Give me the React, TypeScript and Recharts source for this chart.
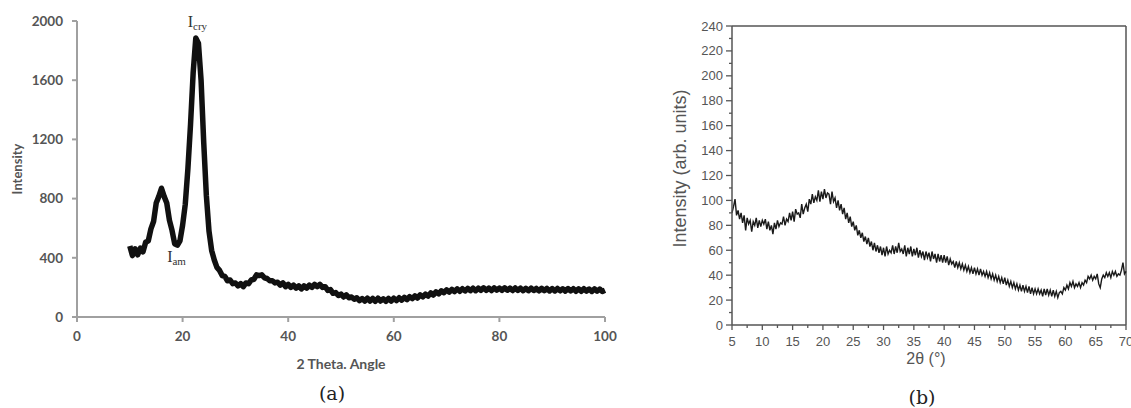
import React from 'react';
import { LineChart, Line, XAxis, YAxis, ReferenceDot, ReferenceLine, Label } from 'recharts';

// ---------- Panel (a) ----------
const angleStartA = 10;
const angleStepA = 0.5;
const intensityA = [
  480, 415, 460, 420, 465, 440, 505, 515, 595, 645,
  770, 815, 870, 815, 770, 655, 585, 495, 485, 515,
  620, 760, 1000, 1300, 1650, 1885, 1850, 1600, 1180, 820,
  580, 450, 385, 335, 315, 280, 275, 245, 250, 225,
  230, 210, 225, 205, 230, 225, 250, 255, 285, 280,
  285, 265, 260, 245, 245, 230, 235, 215, 230, 205,
  220, 200, 215, 195, 210, 190, 210, 195, 215, 200,
  220, 205, 220, 200, 205, 180, 185, 160, 165, 145,
  155, 135, 150, 130, 135, 120, 130, 110, 125, 108,
  127, 108, 125, 106, 127, 108, 123, 106, 125, 108,
  127, 111, 130, 114, 133, 118, 137, 124, 143, 128,
  150, 136, 155, 141, 163, 148, 170, 156, 177, 164,
  183, 168, 187, 172, 190, 174, 191, 176, 193, 178,
  195, 178, 195, 180, 197, 180, 195, 179, 197, 181,
  196, 180, 197, 181, 195, 179, 196, 180, 195, 178,
  194, 178, 195, 179, 193, 177, 194, 178, 193, 176,
  192, 176, 193, 177, 191, 175, 192, 176, 191, 174,
  190, 174, 191, 175, 189, 173, 190, 174, 189, 172,
  180,
];
const xTicksA = [0, 20, 40, 60, 80, 100];
const yTicksA = [0, 400, 800, 1200, 1600, 2000];

// ---------- Panel (b) ----------
const angleStartB = 5;
const angleStepB = 0.25;
const intensityB = [
  90, 95, 101, 88,
  92, 85, 90, 82,
  88, 76, 86, 81,
  84, 75, 83, 80,
  86, 78, 84, 79,
  84, 81, 85, 77,
  83, 76, 80, 73,
  82, 77, 84, 79,
  82, 81, 87, 80,
  85, 83, 90, 84,
  91, 83, 93, 89,
  90, 86, 97, 89,
  94, 97, 91, 101,
  97, 105, 98, 103,
  100, 108, 99, 107,
  101, 109, 102, 106,
  105, 97, 107, 99,
  102, 94, 100, 92,
  97, 89, 94, 85,
  90, 82, 87, 79,
  83, 76, 80, 72,
  76, 70, 74, 67,
  71, 65, 70, 63,
  67, 60, 66, 59,
  64, 58, 63, 56,
  62, 55, 63, 57,
  60, 58, 64, 57,
  63, 58, 66, 59,
  61, 57, 64, 55,
  62, 57, 63, 55,
  61, 56, 62, 54,
  60, 55, 59, 52,
  59, 54, 58, 51,
  59, 53, 57, 50,
  57, 51, 56, 50,
  56, 50, 55, 48,
  53, 49, 51, 46,
  51, 46, 50, 45,
  49, 44, 48, 43,
  47, 42, 46, 41,
  46, 41, 45, 40,
  45, 40, 43, 39,
  43, 38, 42, 37,
  41, 36, 40, 35,
  39, 34, 38, 33,
  38, 32, 36, 31,
  35, 30, 34, 29,
  33, 28, 32, 27,
  32, 27, 31, 26,
  31, 25, 30, 25,
  29, 25, 29, 25,
  28, 23, 29, 24,
  29, 24, 28, 23,
  28, 23, 27, 22,
  26, 27, 25, 30,
  28, 32, 29, 34,
  31, 35, 30, 33,
  31, 34, 30, 34,
  32, 36, 34, 39,
  37, 40, 36, 39,
  37, 41, 33, 30,
  37, 40, 38, 42,
  39, 42, 38, 43,
  40, 43, 39, 41,
  40, 44, 50, 41,
  43,
];
const xTicksB = [5, 7.5, 10, 12.5, 15, 17.5, 20, 22.5, 25, 27.5, 30, 32.5, 35, 37.5, 40, 42.5, 45, 47.5, 50, 52.5, 55, 57.5, 60, 62.5, 65, 67.5, 70];
const yTicksB = [0, 10, 20, 30, 40, 50, 60, 70, 80, 90, 100, 110, 120, 130, 140, 150, 160, 170, 180, 190, 200, 210, 220, 230, 240];

const dataA = intensityA.map((v, i) => ({ angle: angleStartA + i * angleStepA, intensity: v }));
const dataB = intensityB.map((v, i) => ({ angle: angleStartB + i * angleStepB, intensity: v }));

const grayA = '#555';
const axisA = '#a0a0a0';
const fontA = 'Lato, "Open Sans", sans-serif';
const grayB = '#555';
const fontB = '"Liberation Sans", Arial, sans-serif';

const TickYB = (props: any) => {
  const { x, y, payload } = props;
  const v = payload.value;
  const major = v % 20 === 0;
  return (
    <g>
      <line x1={x} x2={x - (major ? 6 : 3)} y1={y} y2={y} stroke={grayB} strokeWidth={1.3} />
      {major && (
        <text x={x - 9} y={y} textAnchor="end" dominantBaseline="central" fill={grayB} fontSize={13} fontFamily={fontB}>
          {v}
        </text>
      )}
    </g>
  );
};

const TickXB = (props: any) => {
  const { x, y, payload } = props;
  const v = payload.value;
  const major = v % 5 === 0;
  return (
    <g>
      <line x1={x} x2={x} y1={y} y2={y + (major ? 5 : 3)} stroke={grayB} strokeWidth={1.3} />
      {major && (
        <text x={x} y={y + 16} textAnchor="middle" dominantBaseline="central" fill={grayB} fontSize={13} fontFamily={fontB}>
          {v}
        </text>
      )}
    </g>
  );
};

export default function App() {
  return (
    <div style={{ position: 'absolute', left: 0, top: 0, width: 1131, height: 408, background: '#fff', overflow: 'hidden' }}>
      <div style={{ position: 'absolute', left: 0, top: 0 }}>
        <LineChart width={620} height={408} data={dataA} margin={{ top: 21, right: 15, left: 0, bottom: 36 }}>
          <XAxis
            type="number"
            dataKey="angle"
            domain={[0, 100]}
            ticks={xTicksA}
            interval={0}
            height={55}
            axisLine={{ stroke: axisA, strokeWidth: 2 }}
            tickLine={{ stroke: axisA, strokeWidth: 2 }}
            tickSize={5}
            tickMargin={9}
            tick={{ fill: grayA, fontSize: 13.5, fontFamily: fontA, fontWeight: 700 }}
          >
            <Label
              content={(p: any) => {
                const vb = p.viewBox || { x: 77, y: 317, width: 528 };
                return (
                  <text x={vb.x + vb.width / 2} y={vb.y + 46} textAnchor="middle" dominantBaseline="central" fill={grayA} fontSize={14} fontWeight={700} fontFamily={fontA}>
                    2 Theta. Angle
                  </text>
                );
              }}
            />
          </XAxis>
          <YAxis
            type="number"
            domain={[0, 2000]}
            ticks={yTicksA}
            interval={0}
            width={77}
            axisLine={{ stroke: axisA, strokeWidth: 2 }}
            tickLine={{ stroke: axisA, strokeWidth: 2 }}
            tickSize={5}
            tickMargin={9}
            tick={{ fill: grayA, fontSize: 13.5, fontFamily: fontA, fontWeight: 700 }}
          >
            <Label
              content={(p: any) => {
                const vb = p.viewBox || { x: 0, y: 21, height: 296 };
                const cx = vb.x + 17;
                const cy = vb.y + vb.height / 2;
                return (
                  <text x={cx} y={cy} transform={`rotate(-90 ${cx} ${cy})`} textAnchor="middle" dominantBaseline="central" fill={grayA} fontSize={13} fontWeight={700} fontFamily={fontA}>
                    Intensity
                  </text>
                );
              }}
            />
          </YAxis>
          <Line type="linear" dataKey="intensity" stroke="#111" strokeWidth={5.5} strokeLinejoin="round" dot={false} isAnimationActive={false} />
          <ReferenceDot
            x={22.8}
            y={1960}
            r={0}
            ifOverflow="visible"
            shape={(p: any) => (
              <text x={p.cx} y={p.cy} textAnchor="middle" fill="#333" fontFamily='"Liberation Serif", serif' fontSize={16}>
                <tspan>I</tspan>
                <tspan fontSize={11} dy={3}>cry</tspan>
              </text>
            )}
          />
          <ReferenceDot
            x={18.85}
            y={370}
            r={0}
            ifOverflow="visible"
            shape={(p: any) => (
              <text x={p.cx} y={p.cy} textAnchor="middle" fill="#333" fontFamily='"Liberation Serif", serif' fontSize={16}>
                <tspan>I</tspan>
                <tspan fontSize={11} dy={3}>am</tspan>
              </text>
            )}
          />
        </LineChart>
      </div>

      <div style={{ position: 'absolute', left: 620, top: 0 }}>
        <LineChart width={511} height={408} data={dataB} margin={{ top: 26, right: 5, left: 0, bottom: 43 }}>
          <XAxis
            type="number"
            dataKey="angle"
            domain={[5, 70]}
            ticks={xTicksB}
            interval={0}
            height={40}
            axisLine={{ stroke: grayB, strokeWidth: 1.5 }}
            tickLine={false}
            tickSize={0}
            tickMargin={0}
            tick={TickXB}
          >
            <Label
              content={(p: any) => {
                const vb = p.viewBox || { x: 112, y: 325, width: 394 };
                return (
                  <text x={vb.x + vb.width / 2 - 3} y={vb.y + 33} textAnchor="middle" dominantBaseline="central" fill={grayB} fontSize={16} fontFamily={fontB}>
                    2θ (°)
                  </text>
                );
              }}
            />
          </XAxis>
          <YAxis
            type="number"
            domain={[0, 240]}
            ticks={yTicksB}
            interval={0}
            width={112}
            axisLine={{ stroke: grayB, strokeWidth: 1.5 }}
            tickLine={false}
            tickSize={0}
            tickMargin={0}
            tick={TickYB}
          >
            <Label
              content={(p: any) => {
                const vb = p.viewBox || { x: 0, y: 26, height: 299 };
                const cx = vb.x + 60;
                const cy = vb.y + vb.height / 2 - 7;
                return (
                  <text x={cx} y={cy} transform={`rotate(-90 ${cx} ${cy})`} textAnchor="middle" dominantBaseline="central" fill={grayB} fontSize={18} fontFamily={fontB}>
                    Intensity (arb. units)
                  </text>
                );
              }}
            />
          </YAxis>
          <ReferenceLine y={240} stroke={grayB} strokeWidth={1.5} ifOverflow="visible" />
          <ReferenceLine x={70} stroke={grayB} strokeWidth={1.5} ifOverflow="visible" />
          <Line type="linear" dataKey="intensity" stroke="#1a1a1a" strokeWidth={1.4} dot={false} isAnimationActive={false} />
        </LineChart>
      </div>

      <div style={{ position: 'absolute', left: 332, top: 393, transform: 'translate(-50%, -50%)', fontFamily: '"DejaVu Serif", serif', fontSize: 19, color: '#222', whiteSpace: 'nowrap' }}>
        (a)
      </div>
      <div style={{ position: 'absolute', left: 922, top: 397, transform: 'translate(-50%, -50%)', fontFamily: '"DejaVu Serif", serif', fontSize: 19, color: '#222', whiteSpace: 'nowrap' }}>
        (b)
      </div>
    </div>
  );
}
